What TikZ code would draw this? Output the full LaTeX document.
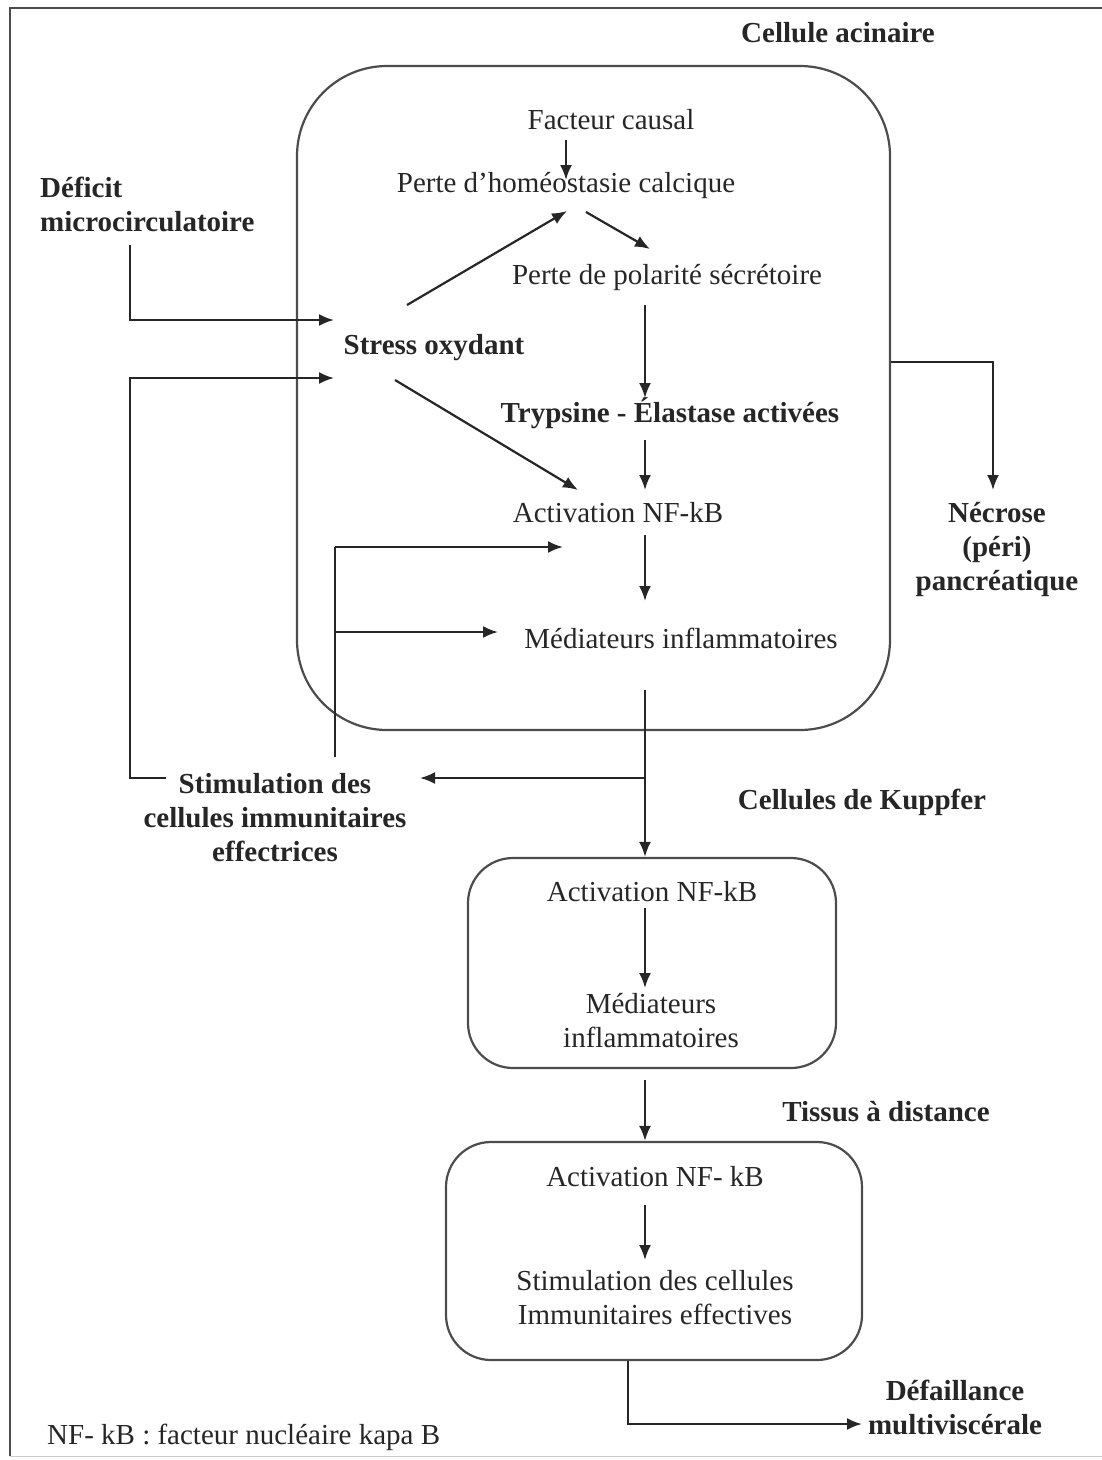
\documentclass[tikz,border=0pt]{standalone}
\usepackage{fontspec}
\setmainfont{Liberation Serif}
\usetikzlibrary{arrows.meta,calc}
\begin{document}
\begin{tikzpicture}[x=1pt,y=-1pt,
  txt/.style={inner sep=0pt, font=\fontsize{29}{34}\selectfont, align=center, text=black!85},
  btxt/.style={inner sep=0pt, font=\fontsize{29}{34}\selectfont\bfseries, align=center, text=black!85},
  arr/.style={line width=2.2pt, draw=black!85, -{Latex[length=15pt,width=12pt]}},
  ln/.style={line width=2.2pt, draw=black!85},
  cellbox/.style={draw=black!70, line width=2.2pt, inner sep=0pt}
]
\useasboundingbox (0,0) rectangle (1102,1460);
\draw[line width=2.5pt, black!70] (1102,8) -- (10,8) -- (10,1456);
\draw[line width=1pt, black!20] (10,1456) -- (1102,1456);

% boxes
\node[cellbox, rounded corners=90pt, minimum width=593pt, minimum height=664pt] (b1) at (593.5,398) {};
\node[cellbox, rounded corners=45pt, minimum width=368pt, minimum height=210pt] (b2) at (652,963) {};
\node[cellbox, rounded corners=45pt, minimum width=416pt, minimum height=218pt] (b3) at (654,1251) {};

% texts
\node[btxt] (ca) at (838,33) {Cellule acinaire};
\node[txt] (fc) at (611,120) {Facteur causal};
\node[txt] (ph) at (566,185) {Perte d’homéostasie calcique};
\node[txt] (pp) at (667,277) {Perte de polarité sécrétoire};
\node[btxt] (so) at (434,348) {Stress oxydant};
\node[btxt] (te) at (670,413) {Trypsine - Élastase activées};
\node[txt] (an1) at (618,513) {Activation NF-kB};
\node[txt] (mi1) at (681,638) {Médiateurs inflammatoires};
\node[btxt, anchor=west, align=left] (dm) at (40,204) {Déficit\\microcirculatoire};
\node[btxt] (ne) at (997,550) {Nécrose\\(péri)\\pancréatique};
\node[btxt] (st) at (275,818) {Stimulation des\\cellules immunitaires\\effectrices};
\node[btxt] (ck) at (862,802) {Cellules de Kuppfer};
\node[txt] (an2) at (652,892) {Activation NF-kB};
\node[txt] (mi2) at (651,1021) {Médiateurs\\inflammatoires};
\node[btxt] (td) at (886,1112) {Tissus à distance};
\node[txt] (an3) at (655,1177) {Activation NF- kB};
\node[txt] (sc) at (655,1298) {Stimulation des cellules\\Immunitaires effectives};
\node[btxt] (dmv) at (955,1407) {Défaillance\\multiviscérale};
\node[txt, anchor=west] (leg) at (47,1437) {NF- kB : facteur nucléaire kapa B};

% coordinates
\coordinate (a1s) at (566,140); \coordinate (a1e) at (566,180);
\coordinate (a2s) at (586,212); \coordinate (a2e) at (650,249);
\coordinate (a3s) at (407,305); \coordinate (a3e) at (567,211);
\coordinate (a4s) at (645,305); \coordinate (a4e) at (645,398);
\coordinate (a5s) at (645,440); \coordinate (a5e) at (645,490);
\coordinate (a6s) at (395,380); \coordinate (a6e) at (578,490);
\coordinate (a7s) at (645,535); \coordinate (a7e) at (645,601);
\coordinate (m1s) at (645,690); \coordinate (br) at (645,778);
\coordinate (sl) at (420,778);
\coordinate (s1) at (335,757); \coordinate (s2) at (335,547); \coordinate (s2e) at (563,547);
\coordinate (s3) at (335,632); \coordinate (s3e) at (498,632);
\coordinate (l1) at (166,778); \coordinate (l2) at (130,778); \coordinate (l3) at (130,378); \coordinate (l3e) at (334,378);
\coordinate (d1) at (130,245); \coordinate (d2) at (130,320); \coordinate (d2e) at (334,320);
\coordinate (n1) at (993,362); \coordinate (n1e) at (993,490);
\coordinate (k1s) at (645,908); \coordinate (k1e) at (645,988);
\coordinate (k2s) at (645,1080);
\coordinate (t1s) at (645,1205); \coordinate (t1e) at (645,1260);
\coordinate (f1) at (628,1424); \coordinate (f1e) at (862,1424);

% connectors
\draw[arr] (a1s) -- (a1e);
\draw[arr] (a2s) -- (a2e);
\draw[arr] (a3s) -- (a3e);
\draw[arr] (a4s) -- (a4e);
\draw[arr] (a5s) -- (a5e);
\draw[arr] (a6s) -- (a6e);
\draw[arr] (a7s) -- (a7e);
\draw[arr] (m1s) -- (m1s |- b2.north);
\draw[arr] (br) -- (sl);
\draw[ln] (s1) -- (s2);
\draw[arr] (s2) -- (s2e);
\draw[arr] (s3) -- (s3e);
\draw[arr] (l1) -- (l2) -- (l3) -- (l3e);
\draw[arr] (d1) -- (d2) -- (d2e);
\draw[arr] (b1.east |- n1) -- (n1) -- (n1e);
\draw[arr] (k1s) -- (k1e);
\draw[arr] (k2s) -- (k2s |- b3.north);
\draw[arr] (t1s) -- (t1e);
\draw[arr] (b3.south -| f1) -- (f1) -- (f1e);
\end{tikzpicture}
\end{document}
